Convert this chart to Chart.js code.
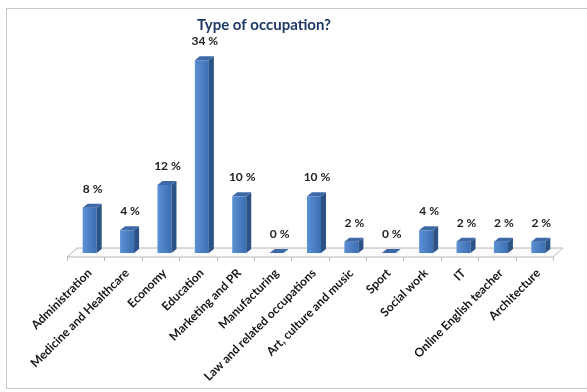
<!DOCTYPE html>
<html>
<head>
<meta charset="utf-8">
<script src="https://cdn.jsdelivr.net/npm/chart.js@4.4.0/dist/chart.umd.min.js"></script>
<style>
  html, body { margin: 0; padding: 0; background: #fff; }
  #wrap { width: 587px; height: 392px; position: relative; }
</style>
</head>
<body>
<div id="wrap"><canvas id="occupationChart"></canvas></div>
<script>
const chartTitle = 'Type of occupation?';
const categories = [
  'Administration', 'Medicine and Healthcare', 'Economy', 'Education',
  'Marketing and PR', 'Manufacturing', 'Law and related occupations',
  'Art, culture and music', 'Sport', 'Social work', 'IT',
  'Online English teacher', 'Architecture'
];
const shares = [8, 4, 12, 34, 10, 0, 10, 2, 0, 4, 2, 2, 2];

// depth of each bar and of the floor it stands on
const BAR_DX = 5, BAR_DY = 4;
const FLOOR_FRONT = 4, FLOOR_BACK = 5, FLOOR_SHIFT = 4;

const fontFamily = "Lato, 'Open Sans', sans-serif";

const frame3d = {
  id: 'frame3d',
  beforeDraw(chart) {
    const { ctx, chartArea: a } = chart;
    ctx.save();
    ctx.fillStyle = '#fff';
    ctx.fillRect(0, 0, chart.width, chart.height);
    ctx.strokeStyle = '#c9c9c9';
    ctx.lineWidth = 1;
    ctx.strokeRect(6.5, 8.5, 620, 380);

    ctx.fillStyle = '#1f3864';
    ctx.font = 'bold 15px ' + fontFamily;
    ctx.textAlign = 'center';
    ctx.textBaseline = 'middle';
    ctx.fillText(chartTitle, 264, 25);

    // floor
    const fy = a.bottom + FLOOR_FRONT, by = a.bottom - FLOOR_BACK;
    const fl = a.left - FLOOR_SHIFT, fr = a.right - FLOOR_SHIFT;
    const dx = FLOOR_SHIFT + 6;
    ctx.beginPath();
    ctx.moveTo(fl, fy);
    ctx.lineTo(fr, fy);
    ctx.lineTo(fr + dx, by);
    ctx.lineTo(fl + dx, by);
    ctx.closePath();
    ctx.fillStyle = '#fbfbfb';
    ctx.fill();
    ctx.strokeStyle = '#b8b8b8';
    ctx.stroke();

    const slot = (a.right - a.left) / categories.length;
    ctx.beginPath();
    for (let i = 0; i <= categories.length; i++) {
      const x = Math.round(fl + i * slot) + 0.5;
      ctx.moveTo(x, fy);
      ctx.lineTo(x, fy + 4);
    }
    ctx.stroke();
    ctx.restore();
  },
  afterDatasetsDraw(chart) {
    const { ctx } = chart;
    const meta = chart.getDatasetMeta(0);
    ctx.save();
    meta.data.forEach((bar, i) => {
      const { x, y, base, width } = bar.getProps(['x', 'y', 'base', 'width'], true);
      const l = x - width / 2, r = x + width / 2;
      // side face
      ctx.beginPath();
      ctx.moveTo(r, y);
      ctx.lineTo(r + BAR_DX, y - BAR_DY);
      ctx.lineTo(r + BAR_DX, base - BAR_DY);
      ctx.lineTo(r, base);
      ctx.closePath();
      ctx.fillStyle = '#2b5386';
      ctx.fill();
      // top face
      ctx.beginPath();
      ctx.moveTo(l, y);
      ctx.lineTo(l + BAR_DX, y - BAR_DY);
      ctx.lineTo(r + BAR_DX, y - BAR_DY);
      ctx.lineTo(r, y);
      ctx.closePath();
      ctx.fillStyle = '#3d6aa6';
      ctx.fill();

      ctx.fillStyle = '#222';
      ctx.font = 'bold 12px ' + fontFamily;
      ctx.textAlign = 'center';
      ctx.textBaseline = 'middle';
      ctx.fillText(shares[i] + ' %', x + 3, y - 19);
    });
    ctx.restore();
  }
};

new Chart(document.getElementById('occupationChart'), {
  type: 'bar',
  data: {
    labels: categories,
    datasets: [{
      data: shares,
      backgroundColor(c) {
        const chart = c.chart;
        if (!chart.chartArea || c.dataIndex === undefined) return '#4a7ebf';
        const x = chart.scales.x.getPixelForValue(c.dataIndex);
        const g = chart.ctx.createLinearGradient(x - 7, 0, x + 7, 0);
        g.addColorStop(0, '#5b90d4');
        g.addColorStop(1, '#3c6fb1');
        return g;
      },
      borderWidth: 0,
      barPercentage: 0.375,
      categoryPercentage: 1
    }]
  },
  options: {
    responsive: true,
    maintainAspectRatio: false,
    animation: false,
    layout: { padding: { top: 49, left: 71, right: 30, bottom: 0 } },
    plugins: {
      legend: { display: false },
      tooltip: { enabled: false },
      title: { display: false }
    },
    scales: {
      x: {
        grid: { display: false, drawTicks: false },
        border: { display: false },
        ticks: {
          autoSkip: false,
          minRotation: 45,
          maxRotation: 45,
          padding: 13,
          color: '#151515',
          font: { family: fontFamily, size: 12, weight: 'bold' }
        },
        afterFit(scale) {
          scale.height = 139;
          scale.paddingLeft = 0;
          scale.paddingRight = 0;
        }
      },
      y: {
        display: false,
        min: 0,
        max: 36
      }
    }
  },
  plugins: [frame3d]
});
</script>
</body>
</html>
